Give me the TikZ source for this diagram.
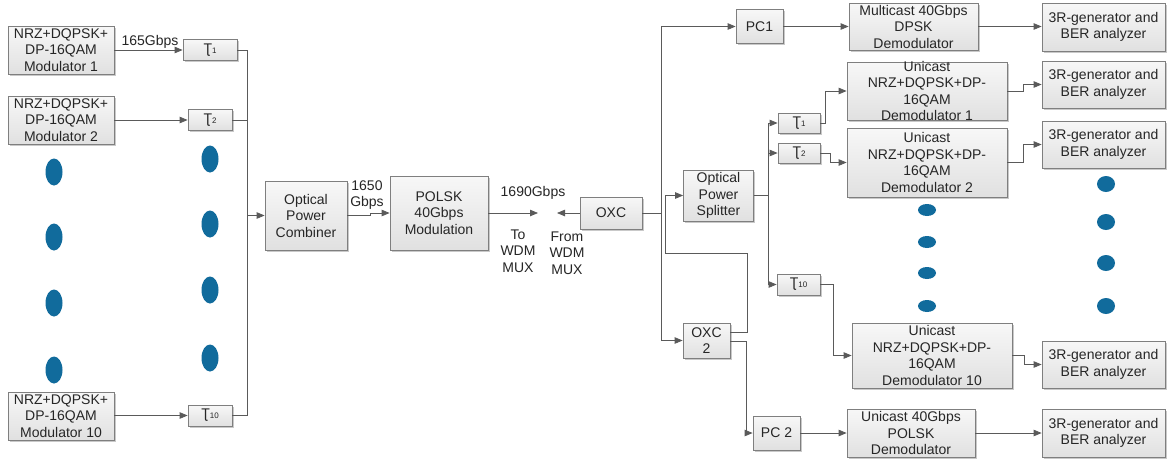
\documentclass[tikz,border=0pt]{standalone}
\usepackage{fontspec}
\setmainfont{Liberation Sans}
\usetikzlibrary{arrows.meta,shadows,calc}
\definecolor{boxborder}{HTML}{7F7F7F}
\definecolor{linec}{HTML}{5A5A5A}
\definecolor{dotc}{HTML}{116B9C}
\definecolor{txtc}{HTML}{262626}
\newcommand{\dfont}{\fontsize{14}{16.5}\selectfont}
\newcommand{\tauz}[1]{Ʈ{\fontsize{8}{8}\selectfont #1}}
\tikzset{
  box/.style={draw=boxborder, line width=0.8pt, top color=white!97!black, bottom color=black!12,
    drop shadow={shadow xshift=1.5pt, shadow yshift=-1.5pt, opacity=0.35, fill=black!60},
    inner sep=0pt, align=center, font=\dfont, text=txtc},
  txt/.style={align=center, font=\dfont, text=txtc, inner sep=0pt},
  line/.style={draw=linec, line width=0.8pt},
  arr/.style={line, -{Triangle[length=8pt,width=6.5pt]}, shorten >=0pt},
}
\begin{document}
\begin{tikzpicture}[x=1pt,y=-1pt]
\fill[white] (0,0) rectangle (1167,459);
\useasboundingbox (0,0) rectangle (1167,459);

% left modulators
\node[box, minimum width=106pt, minimum height=48pt] (m1) at (61,50) {NRZ+DQPSK+\\DP-16QAM\\Modulator 1};
\node[box, minimum width=106pt, minimum height=48pt] (m2) at (61,120) {NRZ+DQPSK+\\DP-16QAM\\Modulator 2};
\node[box, minimum width=106pt, minimum height=48pt] (m10) at (61,416) {NRZ+DQPSK+\\DP-16QAM\\Modulator 10};

\node[box, minimum width=54pt, minimum height=21pt] (t1) at (210,50) {\tauz{1}};
\node[box, minimum width=44pt, minimum height=21pt] (t2) at (210,120) {\tauz{2}};
\node[box, minimum width=44pt, minimum height=21pt] (t10) at (210,415.5) {\tauz{10}};

% dots
\foreach \yy in {172,237,303,370} \fill[dotc] (54,\yy) ellipse [x radius=8.5pt, y radius=13.5pt];
\foreach \yy in {159,224,290,358} \fill[dotc] (210,\yy) ellipse [x radius=8.5pt, y radius=13.5pt];
\foreach \yy in {210,242,273,306} \fill[dotc] (927,\yy) ellipse [x radius=9pt, y radius=6pt];
\foreach \yy in {184,222,263,306} \fill[dotc] (1106,\yy) ellipse [x radius=9pt, y radius=8pt];

\node[box, minimum width=82pt, minimum height=69pt] (comb) at (306,215.5) {Optical\\Power\\Combiner};
\node[box, minimum width=98pt, minimum height=74pt] (polsk) at (439,213) {POLSK\\40Gbps\\Modulation};
\node[box, minimum width=62pt, minimum height=32pt] (oxc) at (611,213) {OXC};

\node[box, minimum width=47pt, minimum height=34pt] (pc1) at (759.5,26.5) {PC1};
\node[box, minimum width=129pt, minimum height=47pt] (mc) at (913.5,26.5) {Multicast 40Gbps\\DPSK\\Demodulator};
\node[box, minimum width=70pt, minimum height=51pt] (spl) at (718.5,195.5) {Optical\\Power\\Splitter};
\node[box, minimum width=42pt, minimum height=20pt] (tr1) at (799,123) {\tauz{1}};
\node[box, minimum width=42pt, minimum height=20pt] (tr2) at (799,153) {\tauz{2}};
\node[box, minimum width=43pt, minimum height=21pt] (tr10) at (798.5,284.5) {\tauz{10}};

\node[box, minimum width=160pt, minimum height=58pt,
  label={[txt]center:{Unicast\\NRZ+DQPSK+DP-\\16QAM\\Demodulator 1}}] (d1) at (927,91) {};
\node[box, minimum width=160pt, minimum height=69pt] (d2) at (927,162.5) {Unicast\\NRZ+DQPSK+DP-\\16QAM\\Demodulator 2};
\node[box, minimum width=160pt, minimum height=65pt] (d10) at (932,355.5) {Unicast\\NRZ+DQPSK+DP-\\16QAM\\Demodulator 10};

\node[box, minimum width=47pt, minimum height=35pt] (oxc2) at (706.5,340.5) {OXC\\2};
\node[box, minimum width=47pt, minimum height=34pt] (pc2) at (776.5,433) {PC 2};
\node[box, minimum width=128pt, minimum height=48pt] (pd) at (911,433) {Unicast 40Gbps\\POLSK\\Demodulator};

\node[box, minimum width=123pt, minimum height=48pt] (r1) at (1103.5,27) {3R-generator and\\BER analyzer};
\node[box, minimum width=123pt, minimum height=47pt] (r2) at (1103.5,84.5) {3R-generator and\\BER analyzer};
\node[box, minimum width=123pt, minimum height=47pt] (r3) at (1103.5,144.5) {3R-generator and\\BER analyzer};
\node[box, minimum width=123pt, minimum height=47pt] (r4) at (1103.5,364.5) {3R-generator and\\BER analyzer};
\node[box, minimum width=123pt, minimum height=48pt] (r5) at (1103.5,433) {3R-generator and\\BER analyzer};

% labels
\node[txt] (l165) at (150,42) {165Gbps};
\node[txt] (l1650) at (367,195) {1650\\Gbps};
\node[txt] (l1690) at (533,193) {1690Gbps};
\node[txt] (lto) at (518,251) {To\\WDM\\MUX};
\node[txt] (lfrom) at (567,253) {From\\WDM\\MUX};

% left connectors
\coordinate (bt) at (247,50);
\coordinate (bb) at (247,415.5);
\draw[arr] (m1.east) -- (t1.west);
\draw[arr] (m2.east) -- (t2.west);
\draw[arr] (m10.east |- t10.west) -- (t10.west);
\draw[line] (t1.east) -- (bt) -- (bb) -- (t10.east);
\draw[line] (t2.east) -- (t2.east -| bt);
\draw[arr] (bt |- comb.west) -- (comb.west);
\draw[arr] (comb.east) -- (370,215.5) -- (370,213) -- (polsk.west);
\coordinate (tomux) at (538,213);
\coordinate (frommux) at (557,213);
\draw[arr] (polsk.east) -- (tomux);
\draw[arr] (oxc.west) -- (frommux);

% OXC distribution
\draw[arr] (oxc.east) -- ++(19,0) |- (pc1.west);
\draw[arr] (oxc.east) -- ++(19,0) |- (oxc2.west);
\coordinate (lp1) at (747,253);
\coordinate (lp2) at (665,253);
\draw[arr] ([yshift=8.5pt]oxc2.east) -| (lp1) -- (lp2) |- (spl.west);
\draw[arr] ([yshift=-0.5pt]oxc2.east) -- ++(15.5,0) |- (pc2.west);
\draw[arr] (pc1.east) -- (mc.west);
\draw[arr] (mc.east) -- (mc.east -| r1.west);
\draw[arr] (pc2.east) -- (pd.west);
\draw[arr] (pd.east) -- (r5.west);

% splitter branches
\draw[arr] (spl.east) -- ++(14.5,0) |- (tr1.west);
\draw[arr] (spl.east) -- ++(14.5,0) |- (tr2.west);
\draw[arr] (spl.east) -- ++(14.5,0) |- (tr10.west);
\draw[arr] (tr1.east) -- ++(5,0) |- (d1.west);
\draw[arr] (tr2.east) -- ++(10,0) |- (d2.west);
\draw[arr] (tr10.east) -- ++(13,0) |- (d10.west);
\draw[arr] (d1.east) -- ++(16,0) |- (r2.west);
\draw[arr] (d2.east) -- ++(16,0) |- (r3.west);
\draw[arr] (d10.east) -- ++(12,0) |- (r4.west);
\end{tikzpicture}
\end{document}
